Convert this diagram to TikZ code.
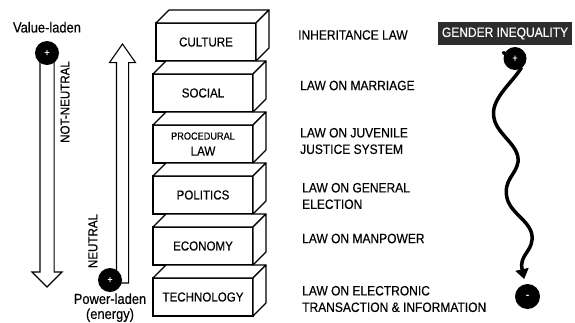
\documentclass[tikz,border=0pt]{standalone}
\usepackage{fontspec}
\setmainfont{Liberation Sans}[FakeStretch=0.89,FakeBold=0.35]
\usetikzlibrary{positioning,arrows.meta,shapes.arrows,backgrounds}
\definecolor{TagGrey}{RGB}{45,45,45}
\tikzset{
  block/.style={draw,line width=1.1pt,fill=white,minimum width=100pt,
    minimum height=38pt,inner sep=0pt,outer sep=0pt,align=center,
    font=\fontsize{13}{16}\selectfont},
  face/.style={draw,line width=1.1pt,fill=white,line join=round},
  pole/.style={circle,fill=black,minimum size=24pt,inner sep=0pt,
    text=white,font=\fontsize{10}{10}\selectfont},
  hollow/.style={single arrow,draw,line width=1.1pt,fill=white,
    inner sep=0pt,outer sep=0pt},
  lawtext/.style={anchor=west,align=left,inner sep=0pt,
    font=\fontsize{13.5}{16.5}\selectfont},
  sidetext/.style={align=center,inner sep=0pt,font=\fontsize{14.5}{15}\selectfont},
  axistext/.style={rotate=90,inner sep=0pt,font=\fontsize{13}{16}\selectfont},
  tag/.style={fill=TagGrey,text=white,minimum width=134pt,minimum height=23pt,
    inner sep=0pt,font=\fontsize{13.5}{16}\selectfont},
  wave/.style={-{Triangle[length=10pt,width=13pt]},line width=3.5pt,line cap=round}
}

\begin{document}
\begin{tikzpicture}[x=1pt,y=-1pt]
  \useasboundingbox (0,0) rectangle (575,322);

  % stack of layers, bottom up
  \node[block] (technology) at (203,297) {TECHNOLOGY};
  \node[block,above=13pt of technology] (economy) {ECONOMY};
  \node[block,above=13pt of economy] (politics) {POLITICS};
  \node[block,above=13pt of politics] (procedural)
    {{\fontsize{10.3}{16}\selectfont PROCEDURAL}\\LAW};
  \node[block,above=13pt of procedural] (social) {SOCIAL};
  \node[block,above=13pt of social,xshift=3pt] (culture) {CULTURE};
  \foreach \b in {technology,economy,politics,procedural,social,culture}{
    \draw[face] (\b.north west) -- ++(13,-13) -- ++(100,0) -- (\b.north east) -- cycle;
    \draw[face] (\b.north east) -- ++(13,-13) -- ++(0,38) -- (\b.south east) -- cycle;
  }

  % laws next to each layer
  \node[lawtext] (inherit) at (298,35) {INHERITANCE LAW};
  \node[lawtext] (marriage) at (300,85.5) {LAW ON MARRIAGE};
  \node[lawtext] (juvenile) at (300,141) {LAW ON JUVENILE\\JUSTICE SYSTEM};
  \node[lawtext] (election) at (302,196) {LAW ON GENERAL\\ELECTION};
  \node[lawtext] (manpower) at (302,238.5) {LAW ON MANPOWER};
  \node[lawtext] (electronic) at (302,299) {LAW ON ELECTRONIC\\TRANSACTION \& INFORMATION};

  % value axis (down) and power axis (up)
  \node[hollow,rotate=-90,anchor=tail,minimum height=234pt,
    single arrow head extend=8pt,single arrow tip angle=90] (downaxis) at (47,53)
    {\rule{0pt}{13pt}};
  \node[hollow,rotate=90,anchor=tail,minimum height=239pt,
    single arrow head extend=7pt,single arrow tip angle=70] (upaxis) at (122.5,283)
    {\rule{0pt}{11pt}};
  \node[pole] (vplus) at (47,53) {+};
  \node[pole] (pplus) at (110,280) {+};
  \node[sidetext,above=8pt of vplus] (value) {Value-laden};
  \node[sidetext,below=1pt of pplus] (power) {Power-laden\\(energy)};
  \node[axistext] (notneutral) at (65,102) {NOT-NEUTRAL};
  \node[axistext] (neutral) at (93,241) {NEUTRAL};

  % gender inequality slope
  \node[tag] (gender) at (505,33.5) {GENDER INEQUALITY};
  \node[pole,minimum size=23pt] (gplus) at (515,58.5) {+};
  \node[pole,minimum size=25pt] (gminus) at (527.5,296.5) {-};
  \begin{scope}[on background layer]
    \draw[wave,shorten >=5pt] ([xshift=-1.5pt]gplus.150) -- (gplus.center) -- (gplus.-60)
      .. controls (510,85) and (490,100) .. (494,118)
      .. controls (497,135) and (520,145) .. (518,162)
      .. controls (516,175) and (503,180) .. (507,198)
      .. controls (511,215) and (534,222) .. (532,240)
      .. controls (531,252) and (519,256) .. (gminus.100);
  \end{scope}
\end{tikzpicture}
\end{document}
